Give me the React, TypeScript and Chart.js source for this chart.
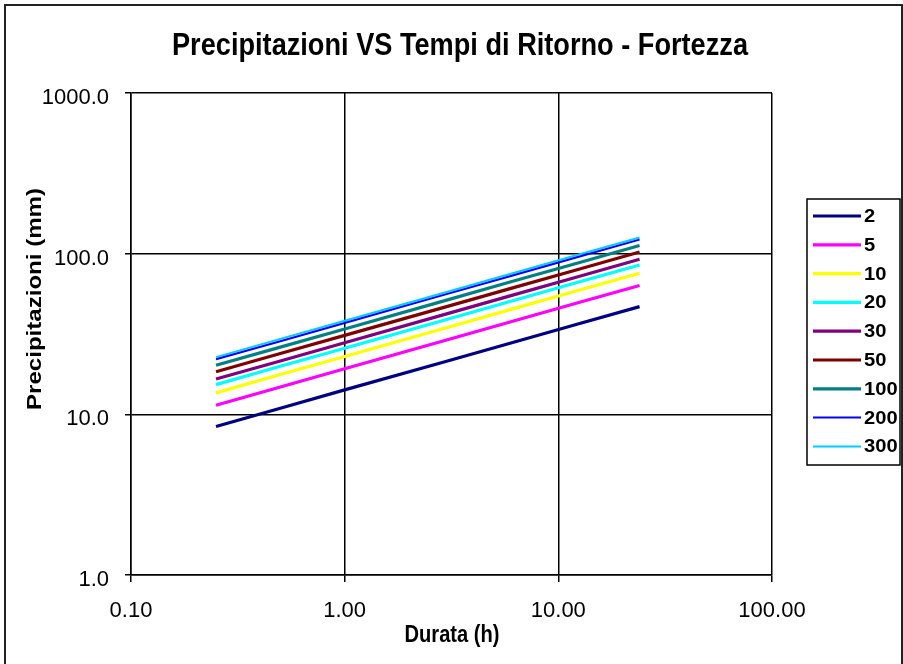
import { useEffect, useRef } from "react";
import { Chart, registerables } from "chart.js";

Chart.register(...registerables);

// Durations (h)
const durations = [0.25, 0.5, 1, 3, 6, 12, 24];
// Return periods (legend labels)
const returnPeriods = ["2", "5", "10", "20", "30", "50", "100", "200", "300"];
// Precipitation (mm) per return period
const rp2 = [8.4, 10.9, 14.2, 21.4, 27.8, 36.1, 46.8];
const rp5 = [11.4, 14.8, 19.2, 29.0, 37.7, 48.9, 63.4];
const rp10 = [13.6, 17.7, 22.9, 34.6, 45.0, 58.4, 75.6];
const rp20 = [15.3, 19.9, 25.8, 38.9, 50.6, 65.6, 85.0];
const rp30 = [16.6, 21.5, 27.9, 42.2, 54.8, 71.1, 92.2];
const rp50 = [18.4, 23.9, 31.0, 46.8, 60.8, 78.9, 102.3];
const rp100 = [20.2, 26.2, 34.0, 51.4, 66.8, 86.6, 112.3];
const rp200 = [22.0, 28.5, 37.0, 56.0, 72.7, 94.3, 122.3];
const rp300 = [22.7, 29.5, 38.2, 57.8, 75.0, 97.3, 126.2];
const seriesValues = [rp2, rp5, rp10, rp20, rp30, rp50, rp100, rp200, rp300];

const xTickValues = [0.1, 1, 10, 100];
const yTickValues = [1, 10, 100, 1000];

const chartTitle = "Precipitazioni VS Tempi di Ritorno - Fortezza";
const xTitle = "Durata (h)";
const yTitle = "Precipitazioni (mm)";

const colors = ["#000080", "#FF00FF", "#FFFF00", "#00FFFF", "#800080", "#800000", "#008080", "#0000FF", "#00CCFF"];
const widths = [3.2, 3.2, 3.2, 3.2, 3.2, 3.2, 3.2, 2, 2];

const FONT = "'Liberation Sans', Arial, sans-serif";

function fitText(ctx: CanvasRenderingContext2D, text: string, x: number, y: number, targetWidth: number, rotate = 0) {
  const w = ctx.measureText(text).width;
  ctx.save();
  ctx.translate(x, y);
  if (rotate) ctx.rotate(rotate);
  ctx.scale(targetWidth / w, 1);
  ctx.fillText(text, 0, 0);
  ctx.restore();
}

const overlayPlugin = {
  id: "overlay",
  beforeDraw(chart: any) {
    const ctx = chart.ctx;
    ctx.save();
    ctx.fillStyle = "#ffffff";
    ctx.fillRect(0, 0, chart.width, chart.height);
    ctx.restore();
  },
  afterDraw(chart: any) {
    const ctx = chart.ctx;
    ctx.save();
    ctx.fillStyle = "#000";
    ctx.textAlign = "center";
    ctx.textBaseline = "middle";
    // title
    ctx.font = `bold 31px ${FONT}`;
    fitText(ctx, chartTitle, 460, 46, 576);
    // axis titles
    ctx.font = `bold 23px ${FONT}`;
    fitText(ctx, xTitle, 452, 636, 95);
    ctx.font = `bold 21px ${FONT}`;
    fitText(ctx, yTitle, 35, 299, 222, -Math.PI / 2);

    // legend
    const bx = 807, by = 199, bw = 93, bh = 266;
    ctx.strokeStyle = "#000";
    ctx.lineWidth = 1.5;
    ctx.strokeRect(bx, by, bw, bh);
    ctx.font = `bold 18px ${FONT}`;
    ctx.textAlign = "left";
    chart.data.datasets.forEach((ds: any, i: number) => {
      const y = 216 + i * 28.8;
      ctx.strokeStyle = ds.borderColor;
      ctx.lineWidth = ds.borderWidth;
      ctx.beginPath();
      ctx.moveTo(813, y);
      ctx.lineTo(861, y);
      ctx.stroke();
      ctx.fillStyle = "#000";
      ctx.save();
      ctx.translate(864, y + 1);
      ctx.scale(1.12, 1);
      ctx.fillText(ds.label, 0, 0);
      ctx.restore();
    });
    ctx.restore();
  },
};

export default function App() {
  const ref = useRef<HTMLCanvasElement | null>(null);
  useEffect(() => {
    if (!ref.current) return;
    const datasets = returnPeriods.map((label, i) => ({
      label,
      data: durations.map((d, j) => ({ x: d, y: seriesValues[i][j] })),
      borderColor: colors[i],
      backgroundColor: colors[i],
      borderWidth: widths[i],
      showLine: true,
      pointRadius: 0,
      fill: false,
    }));
    const chart = new Chart(ref.current, {
      type: "scatter",
      data: { datasets },
      plugins: [overlayPlugin],
      options: {
        animation: false,
        responsive: false,
        layout: { padding: { top: 93, right: 131, left: 0, bottom: 0 } },
        plugins: { legend: { display: false }, tooltip: { enabled: false }, title: { display: false } },
        scales: {
          x: {
            type: "logarithmic",
            min: 0.1,
            max: 100,
            afterBuildTicks: (scale: any) => {
              scale.ticks = xTickValues.map((v) => ({ value: v }));
            },
            afterFit: (scale: any) => {
              scale.height = 89;
            },
            ticks: {
              color: "#000",
              font: { family: FONT, size: 22 },
              padding: 16,
              maxRotation: 0,
              autoSkip: false,
              callback: (v: any) => Number(v).toFixed(2),
            },
            grid: { color: "#000", lineWidth: 1.5, tickLength: 7 },
            border: { color: "#000", width: 1.5 },
          },
          y: {
            type: "logarithmic",
            min: 1,
            max: 1000,
            afterBuildTicks: (scale: any) => {
              scale.ticks = yTickValues.map((v) => ({ value: v }));
            },
            afterFit: (scale: any) => {
              scale.width = 131;
            },
            ticks: {
              color: "#000",
              font: { family: FONT, size: 22 },
              padding: 16,
              labelOffset: 5,
              autoSkip: false,
              callback: (v: any) => Number(v).toFixed(1),
            },
            grid: { color: "#000", lineWidth: 1.5, tickLength: 6 },
            border: { color: "#000", width: 1.5 },
          },
        },
      },
    });
    return () => chart.destroy();
  }, []);
  return (
    <div style={{ position: "absolute", left: 0, top: 0, width: 903, height: 664, overflow: "hidden", background: "#fff" }}>
      <canvas ref={ref} width={903} height={664} style={{ position: "absolute", left: 0, top: 0 }} />
      <div
        style={{
          position: "absolute",
          left: 4,
          top: 4,
          width: 895,
          height: 700,
          border: "2px solid #222",
          pointerEvents: "none",
        }}
      />
    </div>
  );
}
